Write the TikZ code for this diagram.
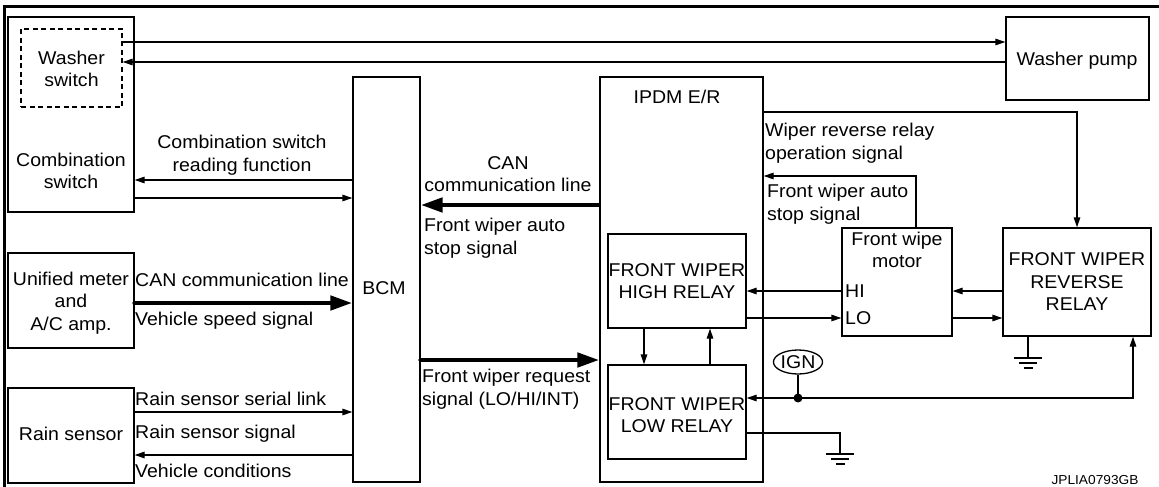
\documentclass[tikz,border=0pt]{standalone}
\usepackage{fontspec}
\setmainfont{Liberation Sans}[FakeStretch=1.055]
\usetikzlibrary{arrows.meta,shapes.geometric}
\newcommand\lblfont{\fontsize{18.5}{22.5}\selectfont}
\tikzset{
  box/.style={draw,line width=1.3pt,inner sep=0pt},
  dbox/.style={draw,line width=1.3pt,inner sep=0pt,dash pattern=on 5pt off 3.5pt},
  txt/.style={inner sep=0pt,font=\lblfont,align=center},
  ltxt/.style={inner sep=0pt,font=\lblfont,align=left,anchor=west},
  sig/.style={line width=1.3pt,-{Triangle[length=10pt,width=6.5pt]}},
  wire/.style={line width=1.3pt},
  bus/.style={line width=4.6pt,line cap=round,-{Triangle[length=22pt,width=14pt]}},
  gnd/.pic={\draw[line width=1.3pt] (-14,0)--(14,0) (-9,5)--(9,5) (-4.5,10)--(4.5,10);}
}
\begin{document}
\begin{tikzpicture}[x=1pt,y=-1pt]
\useasboundingbox (0,0) rectangle (1159,487);
% frame
\draw[line width=3pt] (4,490) -- (4,6.5) -- (1162,6.5);
% boxes
\node[box,minimum width=126pt,minimum height=195pt] (comb) at (71,114.5) {};
\node[dbox,minimum width=101pt,minimum height=78pt] (washer) at (71.5,68) {};
\node[box,minimum width=67pt,minimum height=405pt] (bcm) at (386.5,279.5) {};
\node[box,minimum width=126pt,minimum height=95pt] (meter) at (71,300.5) {};
\node[box,minimum width=126pt,minimum height=95pt] (rain) at (71,435.5) {};
\node[box,minimum width=163pt,minimum height=405pt] (ipdm) at (681.5,279.5) {};
\node[box,minimum width=138pt,minimum height=94pt] (high) at (677,281) {};
\node[box,minimum width=138pt,minimum height=94pt] (low) at (677,412) {};
\node[box,minimum width=143pt,minimum height=83pt] (pump) at (1077.5,58.5) {};
\node[box,minimum width=110pt,minimum height=108pt] (motor) at (897,282) {};
\node[box,minimum width=148pt,minimum height=108pt] (rev) at (1077,282) {};
\node[draw,line width=1.3pt,ellipse,inner sep=0pt,minimum width=49pt,minimum height=24pt,font=\lblfont] (ign) at (798,362) {IGN};
% texts
\node[txt] (twasher) at (71.5,69) {Washer\\switch};
\node[txt] (tcomb) at (71,171) {Combination\\switch};
\node[txt] (tcsr) at (242,155) {Combination switch\\reading function};
\node[txt] (tmeter) at (71,303) {Unified meter\\and\\A/C amp.};
\node[ltxt] (tcan1) at (135,280) {CAN communication line};
\node[ltxt] (tvss) at (135,321) {Vehicle speed signal};
\node[ltxt] (trsl) at (135,399) {Rain sensor serial link};
\node[ltxt] (trss) at (135,434) {Rain sensor signal};
\node[ltxt] (tvc) at (135,471) {Vehicle conditions};
\node[txt] (train) at (71,434) {Rain sensor};
\node[txt] (tbcm) at (384,288) {BCM};
\node[txt] (tcan2) at (508,174) {CAN\\communication line};
\node[ltxt] (tfwa1) at (424,238) {Front wiper auto\\stop signal};
\node[ltxt] (tfwr) at (422,389) {Front wiper request\\signal (LO/HI/INT)};
\node[txt] (tipdm) at (677,97) {IPDM E/R};
\node[txt] (thigh) at (677,281) {FRONT WIPER\\HIGH RELAY};
\node[txt] (tlow) at (677,415) {FRONT WIPER\\LOW RELAY};
\node[txt] (tpump) at (1077,61) {Washer pump};
\node[ltxt] (twrr) at (765,143) {Wiper reverse relay\\operation signal};
\node[ltxt] (tfwa2) at (767,204) {Front wiper auto\\stop signal};
\node[txt] (tmotor) at (897,250) {Front wipe\\motor};
\node[ltxt] (thi) at (845,291) {HI};
\node[ltxt] (tlo) at (845,318) {LO};
\node[txt] (trev) at (1077,282) {FRONT WIPER\\REVERSE\\RELAY};
\node[inner sep=0pt,font=\fontsize{13}{15}\selectfont] (code) at (1095,480) {JPLIA0793GB};
% connectors
\draw[sig] (washer.east |- 0,42) -- (pump.west |- 0,42);
\draw[sig] (pump.west |- 0,62) -- (washer.east |- 0,62);
\draw[sig] (bcm.west |- 0,180) -- (comb.east |- 0,180);
\draw[sig] (comb.east |- 0,198) -- (bcm.west |- 0,198);
\draw[bus] (meter.east |- 0,303) -- (bcm.west |- 0,303);
\draw[sig] (rain.east |- 0,412) -- (bcm.west |- 0,412);
\draw[sig] (bcm.west |- 0,455) -- (rain.east |- 0,455);
\draw[bus,line cap=butt] (ipdm.west |- 0,205) -- (bcm.east |- 0,205);
\draw[bus] (bcm.east |- 0,360) -- (ipdm.west |- 0,360);
\draw[sig] (high.south -| 644,0) -- (low.north -| 644,0);
\draw[sig] (low.north -| 710,0) -- (high.south -| 710,0);
\draw[sig] (ipdm.east |- 0,112) -| (rev.north);
\draw[sig] (motor.north -| 916,0) |- (ipdm.east |- 0,176);
\draw[sig] (motor.west |- 0,291) -- (high.east |- 0,291);
\draw[sig] (high.east |- 0,318) -- (motor.west |- 0,318);
\draw[sig] (rev.west |- 0,291) -- (motor.east |- 0,291);
\draw[sig] (motor.east |- 0,318) -- (rev.west |- 0,318);
\coordinate (g1) at (1028,358);
\draw[wire] (rev.south -| g1) -- (g1);
\pic at (g1) {gnd};
\coordinate (dot) at (798,398);
\draw[wire] (ign.south) -- (dot);
\fill (dot) circle (4.5pt);
\draw[sig] (dot) -- (low.east |- dot);
\draw[sig] (dot) -| (rev.south -| 1133,0);
\coordinate (g2) at (840,454);
\draw[wire] (low.east |- 0,433) -| (g2);
\pic at (g2) {gnd};
\end{tikzpicture}
\end{document}
